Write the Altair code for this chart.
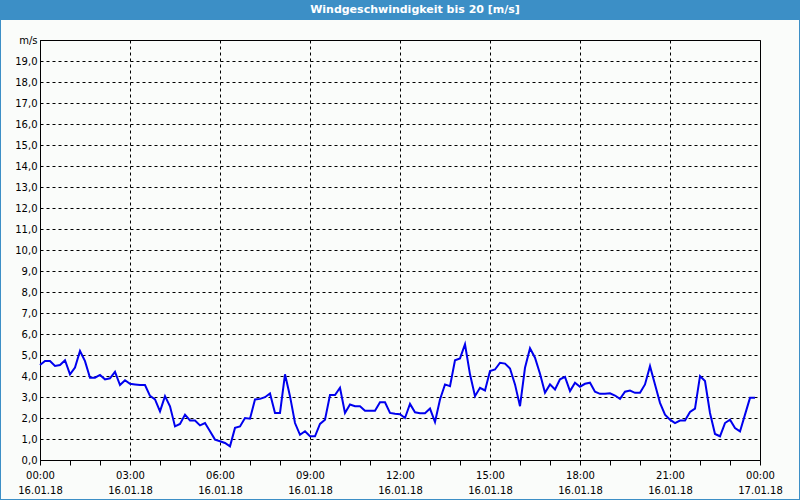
import json
import altair as alt
import pandas as pd

# wind speed (m/s), one value every 10 minutes from 16.01.18 00:00
speed = [
    4.52, 4.71, 4.71, 4.48, 4.52, 4.75, 4.08, 4.40, 5.19, 4.71,
    3.92, 3.92, 4.05, 3.84, 3.89, 4.20, 3.57, 3.80, 3.63, 3.60,
    3.57, 3.57, 3.05, 2.89, 2.32, 3.04, 2.56, 1.60, 1.72, 2.16,
    1.88, 1.88, 1.65, 1.76, 1.37, 0.97, 0.89, 0.81, 0.65, 1.53,
    1.60, 2.00, 1.97, 2.88, 2.91, 2.99, 3.17, 2.24, 2.24, 4.08,
    3.04, 1.76, 1.20, 1.37, 1.13, 1.13, 1.72, 1.92, 3.09, 3.09,
    3.44, 2.24, 2.64, 2.56, 2.56, 2.35, 2.35, 2.35, 2.75, 2.75,
    2.24, 2.20, 2.18, 2.00, 2.67, 2.27, 2.23, 2.23, 2.45, 1.81,
    2.88, 3.60, 3.52, 4.75, 4.84, 5.51, 4.08, 3.04, 3.44, 3.31,
    4.24, 4.31, 4.63, 4.59, 4.36, 3.60, 2.56, 4.39, 5.32, 4.87,
    4.11, 3.20, 3.60, 3.36, 3.84, 3.96, 3.28, 3.68, 3.49, 3.63,
    3.68, 3.25, 3.15, 3.15, 3.18, 3.07, 2.91, 3.25, 3.31, 3.20,
    3.20, 3.60, 4.47, 3.60, 2.72, 2.16, 1.92, 1.76, 1.88, 1.88,
    2.29, 2.45, 4.00, 3.76, 2.24, 1.24, 1.13, 1.76, 1.92, 1.52,
    1.36, 2.16, 2.96, 2.96,
]
step_min = 10
minutes = [i * step_min for i in range(len(speed))]

hour_labels = ["00:00", "03:00", "06:00", "09:00", "12:00", "15:00", "18:00", "21:00", "00:00"]
date_labels = ["16.01.18"] * 8 + ["17.01.18"]
y_labels = ["0,0", "1,0", "2,0", "3,0", "4,0", "5,0", "6,0", "7,0", "8,0", "9,0",
            "10,0", "11,0", "12,0", "13,0", "14,0", "15,0", "16,0", "17,0", "18,0", "19,0", "m/s"]
title_text = "Windgeschwindigkeit bis 20 [m/s]"

df = pd.DataFrame({"min": minutes, "v": speed})
one = pd.DataFrame({"a": [0]})

FONT = "DejaVu Sans"
BLUE_BAR = "#3c8fc6"

pairs = [[h, d] for h, d in zip(hour_labels, date_labels)]
x_label_expr = f"datum.value % 180 == 0 ? {json.dumps(pairs)}[datum.value / 180] : ''"
y_label_expr = f"{json.dumps(y_labels)}[datum.value]"

x_enc = alt.X(
    "min:Q",
    scale=alt.Scale(domain=[0, 1440], nice=False, zero=False),
    axis=alt.Axis(
        values=list(range(0, 1441, 60)),
        title=None,
        grid=True,
        gridColor="#000000",
        gridDash=[3, 3],
        gridOpacity={"condition": {"test": "datum.value % 180 == 0", "value": 1}, "value": 0},
        labelExpr=x_label_expr,
        labelFont=FONT,
        labelFontSize=10,
        labelColor="#000000",
        labelPadding=5,
        labelLineHeight=15,
        labelFlush=False,
        labelOverlap=False,
        labelBound=False,
        tickSize=5,
        tickColor="#000000",
        domainColor="#000000",
    ),
)
y_enc = alt.Y(
    "v:Q",
    scale=alt.Scale(domain=[0, 20], nice=False, zero=True),
    axis=alt.Axis(
        values=list(range(0, 21)),
        title=None,
        grid=True,
        gridColor="#000000",
        gridDash=[3, 3],
        labelExpr=y_label_expr,
        labelFont=FONT,
        labelFontSize=10,
        labelColor="#000000",
        labelPadding=3,
        labelFlush=False,
        labelOverlap=False,
        labelBound=False,
        tickSize=0,
        domainColor="#000000",
    ),
)

line = alt.Chart(df).mark_line(color="#0000ee", strokeWidth=2, interpolate="linear").encode(x=x_enc, y=y_enc)

title_bar = alt.Chart(one).mark_rect(fill=BLUE_BAR).encode(
    x=alt.value(-40), x2=alt.value(760), y=alt.value(-40), y2=alt.value(-20)
)
frame = alt.Chart(one).mark_rect(fill=None, stroke=BLUE_BAR, strokeWidth=2).encode(
    x=alt.value(-40), x2=alt.value(760), y=alt.value(-40), y2=alt.value(460)
)
title = alt.Chart(one).mark_text(
    text=title_text, color="white", font=FONT, fontSize=11, fontWeight="bold",
    align="center", baseline="middle"
).encode(x=alt.value(375), y=alt.value(-30))

chart = alt.layer(line, title_bar, frame, title).properties(
    width=720,
    height=420,
    autosize=alt.AutoSizeParams(type="none"),
    padding={"left": 40, "top": 40, "right": 40, "bottom": 40},
    background="#fafcfa",
).configure_view(stroke="#000000", strokeWidth=1)

chart.save("out.html", embed_options={"renderer": "svg", "actions": False})
